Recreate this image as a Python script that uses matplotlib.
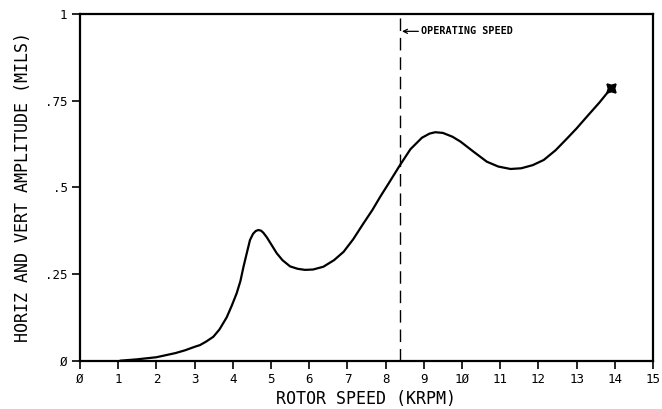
import matplotlib
matplotlib.use("Agg")
import matplotlib.pyplot as plt

# Data
speed_krpm = [1.05, 1.5, 2.0, 2.5, 2.75, 3.0, 3.14, 3.3, 3.49, 3.65, 3.84, 3.97, 4.10, 4.20,
              4.28, 4.37, 4.45, 4.53, 4.60, 4.67, 4.74, 4.80, 4.89, 5.02, 5.15, 5.30,
              5.50, 5.70, 5.89, 6.10, 6.37, 6.65, 6.90, 7.15, 7.42, 7.65, 7.86, 8.10,
              8.37, 8.65, 8.95, 9.15, 9.30, 9.50, 9.75, 9.96, 10.30, 10.65, 10.95,
              11.27, 11.55, 11.85, 12.14, 12.45, 12.75, 13.0, 13.27, 13.6, 13.91]
amplitude_mils = [0.0, 0.004, 0.01, 0.022, 0.030, 0.040, 0.045, 0.055, 0.069, 0.090, 0.125,
                  0.158, 0.194, 0.230, 0.271, 0.312, 0.348, 0.366, 0.374, 0.377, 0.375,
                  0.369, 0.356, 0.333, 0.310, 0.290, 0.272, 0.265, 0.262, 0.263, 0.271,
                  0.290, 0.314, 0.350, 0.396, 0.434, 0.473, 0.515, 0.563, 0.610, 0.643,
                  0.655, 0.659, 0.657, 0.646, 0.632, 0.603, 0.574, 0.560, 0.553, 0.555,
                  0.564, 0.579, 0.607, 0.641, 0.670, 0.704, 0.745, 0.787]

operating_speed = 8.38
x_ticks = list(range(0, 16))
x_tick_labels = ["Ø", "1", "2", "3", "4", "5", "6", "7", "8", "9",
                 "1Ø", "11", "12", "13", "14", "15"]
y_ticks = [0, 0.25, 0.5, 0.75, 1.0]
y_tick_labels = ["Ø", ".25", ".5", ".75", "1"]

font = "DejaVu Sans Mono"
plt.rcParams['font.family'] = [font]

fig = plt.figure(figsize=(6.62, 4.09), dpi=100)
ax = fig.add_axes([80 / 662, 1 - 360.7 / 409, (653 - 80) / 662, (360.7 - 14) / 409])

ax.plot(speed_krpm, amplitude_mils, color="black", lw=1.6,
        solid_joinstyle="round", solid_capstyle="round")
ax.plot([speed_krpm[-1]], [amplitude_mils[-1]], marker=(4, 1, 45), color="black",
        markersize=9, markeredgewidth=1.2)

ax.axvline(operating_speed, color="black", lw=1.0, dashes=(9, 5))
ax.annotate("OPERATING SPEED", xy=(operating_speed + 0.05, 0.95),
            xytext=(operating_speed + 0.55, 0.95), va="center", ha="left",
            fontsize=7.3, fontweight="bold",
            arrowprops=dict(arrowstyle="->", color="black", lw=0.9,
                            shrinkA=0, shrinkB=0))

ax.set_xlim(0, 15)
ax.set_ylim(0, 1)
ax.set_xticks(x_ticks)
ax.set_xticklabels(x_tick_labels)
ax.set_yticks(y_ticks)
ax.set_yticklabels(y_tick_labels)
ax.tick_params(direction="out", length=6, width=1.2, labelsize=9, pad=3)

for s in ax.spines.values():
    s.set_linewidth(1.6)

ax.set_xlabel("ROTOR SPEED (KRPM)", fontsize=12, labelpad=3)
ax.set_ylabel("HORIZ AND VERT AMPLITUDE (MILS)", fontsize=12, labelpad=9)

fig.savefig("out.png", dpi=100)
